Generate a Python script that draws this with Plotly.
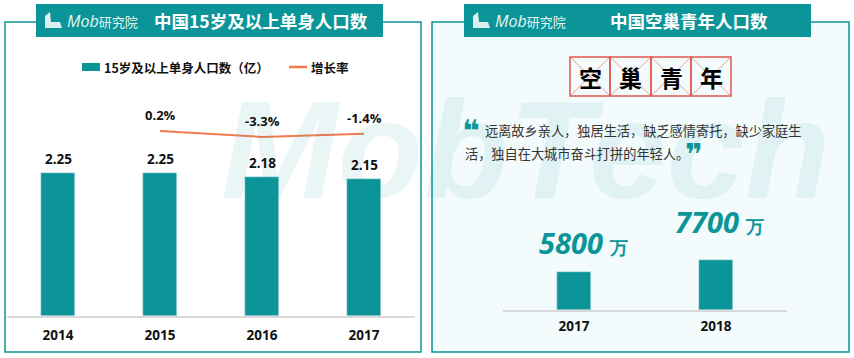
import plotly.graph_objects as go

# ---------------- data ----------------
years_left = ["2014", "2015", "2016", "2017"]
single_pop = [2.25, 2.25, 2.18, 2.15]          # 亿
growth_years = ["2015", "2016", "2017"]
growth_rate = [0.2, -3.3, -1.4]                 # %
growth_labels = ["0.2%", "-3.3%", "-1.4%"]

years_right = ["2017", "2018"]
empty_nest = [5800, 7700]                       # 万

left_title = "中国15岁及以上单身人口数"
right_title = "中国空巢青年人口数"
legend_bar = "15岁及以上单身人口数（亿）"
legend_line = "增长率"
box_chars = ["空", "巢", "青", "年"]
quote_line1 = "远离故乡亲人，独居生活，缺乏感情寄托，缺少家庭生"
quote_line2 = "活，独自在大城市奋斗打拼的年轻人。"

# ---------------- style ----------------
W, H = 854, 358
TEAL = "#0B9599"
ORANGE = "#F37A4C"
RED = "#E0584E"
FONT = "Open Sans, Noto Sans CJK SC, sans-serif"
CJK = "Noto Sans CJK SC, sans-serif"


def X(px):
    return px / W


def Y(py):
    return 1 - py / H


fig = go.Figure()

fig.add_trace(go.Bar(
    x=years_left, y=single_pop, marker_color=TEAL, width=0.333,
    xaxis="x", yaxis="y", showlegend=False, hoverinfo="skip"))
fig.add_trace(go.Scatter(
    x=growth_years, y=growth_rate, mode="lines",
    line=dict(color=ORANGE, width=2), xaxis="x", yaxis="y2",
    showlegend=False, hoverinfo="skip"))
fig.add_trace(go.Bar(
    x=years_right, y=empty_nest, marker_color=TEAL, width=0.246,
    xaxis="x2", yaxis="y3", showlegend=False, hoverinfo="skip"))

shapes = []
annotations = []

# panels
shapes.append(dict(type="rect", xref="paper", yref="paper", layer="below",
                   x0=X(5), x1=X(421), y0=Y(352), y1=Y(22),
                   line=dict(color=TEAL, width=1.5), fillcolor="white"))
shapes.append(dict(type="rect", xref="paper", yref="paper", layer="below",
                   x0=X(432), x1=X(849), y0=Y(352), y1=Y(22),
                   line=dict(color=TEAL, width=1.5), fillcolor="#F4FBFC"))

# banners
for x0, x1 in [(36, 383), (464, 811)]:
    shapes.append(dict(type="rect", xref="paper", yref="paper",
                       x0=X(x0), x1=X(x1), y0=Y(37), y1=Y(4),
                       line=dict(width=0), fillcolor=TEAL))
    bx = x0 + 9
    shapes.append(dict(type="path", xref="paper", yref="paper",
                       path=f"M {X(bx)},{Y(28)} L {X(bx)},{Y(16)} L {X(bx+5)},{Y(12)} L {X(bx+6)},{Y(22)} L {X(bx+15)},{Y(22)} L {X(bx+17)},{Y(28)} Z",
                       line=dict(width=0), fillcolor="rgba(255,255,255,0.85)"))
    annotations.append(dict(xref="paper", yref="paper", x=X(bx + 20), y=Y(21),
                            xanchor="left", yanchor="middle", showarrow=False,
                            text="<i>Mob</i><span style='font-size:13px'>研究院</span>",
                            font=dict(family=FONT, size=16, color="rgba(255,255,255,0.92)")))

annotations.append(dict(xref="paper", yref="paper", x=X(261), y=Y(21), showarrow=False,
                        text=f"<b>{left_title}</b>", xanchor="center", yanchor="middle",
                        font=dict(family=CJK, size=17.5, color="white")))
annotations.append(dict(xref="paper", yref="paper", x=X(689), y=Y(21), showarrow=False,
                        text=f"<b>{right_title}</b>", xanchor="center", yanchor="middle",
                        font=dict(family=CJK, size=17.5, color="white")))

# watermark
annotations.append(dict(xref="paper", yref="paper", x=X(525), y=Y(150), showarrow=False,
                        text="<b><i>MobTech</i></b>", xanchor="center", yanchor="middle",
                        font=dict(family="Liberation Sans, sans-serif", size=140,
                                  color="rgba(11,149,153,0.085)")))

# manual legend
shapes.append(dict(type="rect", xref="paper", yref="paper",
                   x0=X(82), x1=X(100), y0=Y(71), y1=Y(63),
                   line=dict(width=0), fillcolor=TEAL))
shapes.append(dict(type="line", xref="paper", yref="paper",
                   x0=X(289), x1=X(307), y0=Y(67), y1=Y(67),
                   line=dict(color=ORANGE, width=2.5)))
annotations.append(dict(xref="paper", yref="paper", x=X(102), y=Y(67), showarrow=False,
                        text=f"<b>{legend_bar}</b>", xanchor="left", yanchor="middle",
                        font=dict(family=CJK, size=12.5, color="#111")))
annotations.append(dict(xref="paper", yref="paper", x=X(309), y=Y(67), showarrow=False,
                        text=f"<b>{legend_line}</b>", xanchor="left", yanchor="middle",
                        font=dict(family=CJK, size=12.5, color="#111")))

# bar value labels (category index positions)
for i, yv in enumerate(single_pop):
    annotations.append(dict(xref="x", yref="y", x=i, y=yv, yshift=14, showarrow=False,
                            text=f"<b>{yv:.2f}</b>", xanchor="center", yanchor="middle",
                            font=dict(family=FONT, size=13.5, color="#111")))
# growth labels
for xv, yv, t in zip(growth_years, growth_rate, growth_labels):
    annotations.append(dict(xref="x", yref="y2", x=years_left.index(xv), y=yv, yshift=16,
                            showarrow=False, text=f"<b>{t}</b>",
                            xanchor="center", yanchor="middle",
                            font=dict(family=FONT, size=13, color="#111")))

# 空巢青年 boxes
edges = [570, 610, 651, 691, 731]
for i, ch in enumerate(box_chars):
    x0, x1 = edges[i], edges[i + 1]
    shapes.append(dict(type="line", xref="paper", yref="paper",
                       x0=X(x0), x1=X(x1), y0=Y(57), y1=Y(96),
                       line=dict(color="rgba(224,88,78,0.7)", width=0.8)))
    shapes.append(dict(type="line", xref="paper", yref="paper",
                       x0=X(x0), x1=X(x1), y0=Y(96), y1=Y(57),
                       line=dict(color="rgba(224,88,78,0.7)", width=0.8)))
    shapes.append(dict(type="rect", xref="paper", yref="paper",
                       x0=X(x0), x1=X(x1), y0=Y(96), y1=Y(57),
                       line=dict(color=RED, width=1.5)))
    annotations.append(dict(xref="paper", yref="paper", x=X((x0 + x1) / 2), y=Y(77),
                            showarrow=False, text=f"<b>{ch}</b>",
                            xanchor="center", yanchor="middle",
                            font=dict(family=CJK, size=23, color="#000")))

# quote
annotations.append(dict(xref="paper", yref="paper", x=X(471), y=Y(131), showarrow=False,
                        text="<b>❝</b>", xanchor="center", yanchor="middle",
                        font=dict(family="DejaVu Sans, sans-serif", size=30, color=TEAL)))
annotations.append(dict(xref="paper", yref="paper", x=X(483), y=Y(130), showarrow=False,
                        text=quote_line1, xanchor="left", yanchor="middle",
                        font=dict(family=CJK, size=13.2, color="#333")))
annotations.append(dict(xref="paper", yref="paper", x=X(463), y=Y(153), showarrow=False,
                        text=quote_line2, xanchor="left", yanchor="middle",
                        font=dict(family=CJK, size=13.2, color="#333")))
annotations.append(dict(xref="paper", yref="paper", x=X(694), y=Y(154), showarrow=False,
                        text="<b>❞</b>", xanchor="center", yanchor="middle",
                        font=dict(family="DejaVu Sans, sans-serif", size=30, color=TEAL)))

# big numbers above right bars
for i, (yv, dx, dy) in enumerate(zip(empty_nest, [9, 3], [30, 38])):
    annotations.append(dict(xref="x2", yref="y3", x=i, y=yv, xshift=dx, yshift=dy,
                            showarrow=False, xanchor="center", yanchor="middle",
                            text=f"<b><i>{yv}</i></b> <span style='font-size:18px'><b>万</b></span>",
                            font=dict(family="Open Sans, sans-serif", size=29, color=TEAL)))

fig.update_layout(
    width=W, height=H, margin=dict(l=0, r=0, t=0, b=0, autoexpand=False),
    paper_bgcolor="white", plot_bgcolor="rgba(0,0,0,0)",
    shapes=shapes, annotations=annotations,
    xaxis=dict(domain=[X(7), X(415)], type="category", anchor="y",
               range=[-0.5, 3.5], fixedrange=True,
               showline=True, linecolor="#D9D9D9", linewidth=1.5,
               showgrid=False, zeroline=False, ticks="",
               tickfont=dict(family=FONT, size=13.5, color="#111", weight="bold"),
               ticklabelstandoff=6),
    yaxis=dict(domain=[Y(316), Y(40)], range=[0, 276 / 63.6], visible=False,
               fixedrange=True),
    yaxis2=dict(overlaying="y", range=[-108.0, 53.4], visible=False, fixedrange=True),
    xaxis2=dict(domain=[X(503), X(787)], type="category", anchor="y3",
                range=[-0.5, 1.5], fixedrange=True,
                showline=True, linecolor="#D9D9D9", linewidth=1.5,
                showgrid=False, zeroline=False, ticks="",
                tickfont=dict(family=FONT, size=13.5, color="#111", weight="bold"),
                ticklabelstandoff=3),
    yaxis3=dict(domain=[Y(310), Y(180)], range=[0, 130 / 0.00655], visible=False,
                fixedrange=True),
    bargap=0,
)

fig.write_html("out.html", config={"displayModeBar": False},
               post_script="document.body.style.margin='0';document.body.style.overflow='hidden';")
